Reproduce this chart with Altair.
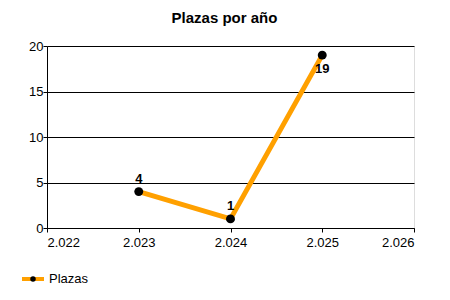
import altair as alt
import pandas as pd

years = [2023, 2024, 2025]
plazas = [4, 1, 19]
label_dy = [-14, -12, 14]
x_ticks = [2022, 2023, 2024, 2025, 2026]
y_ticks = [0, 5, 10, 15, 20]
series_name = "Plazas"
title_text = "Plazas por año"

df = pd.DataFrame({"year": years, "plazas": plazas, "dy": label_dy})

FONT = "Liberation Sans"

x = alt.X("year:Q",
          scale=alt.Scale(domain=[2022, 2026], nice=False, zero=False),
          axis=alt.Axis(values=x_ticks, title=None, grid=False,
                        labelExpr="replace(format(datum.value, ','), ',', '.')",
                        labelFontSize=13, labelColor="black", labelPadding=4,
                        tickColor="black", tickSize=4, domainColor="black",
                        labelFont=FONT))
y = alt.Y("plazas:Q",
          scale=alt.Scale(domain=[0, 20], nice=False),
          axis=alt.Axis(values=y_ticks, title=None, grid=True, gridColor="black",
                        gridOpacity=1, labelFontSize=13, labelColor="black",
                        tickColor="black", tickSize=4, domainColor="black",
                        labelPadding=0, labelFont=FONT))

line = alt.Chart(df).mark_line(color="#FFA000", strokeWidth=5).encode(x=x, y=y)
points = alt.Chart(df).mark_circle(color="black", size=80, opacity=1).encode(x="year:Q", y="plazas:Q")
labels_up = alt.Chart(df).transform_filter("datum.dy < 0").mark_text(
    fontWeight="bold", fontSize=13, font=FONT, color="black", baseline="bottom", dy=-6
).encode(x="year:Q", y="plazas:Q", text="plazas:Q")
labels_down = alt.Chart(df).transform_filter("datum.dy > 0").mark_text(
    fontWeight="bold", fontSize=13, font=FONT, color="black", baseline="top", dy=8
).encode(x="year:Q", y="plazas:Q", text="plazas:Q")

# legend (manual, below the plot)
leg_df = pd.DataFrame({"name": [series_name]})
leg_line = alt.Chart(leg_df).mark_rule(color="#FFA000", strokeWidth=4).encode(
    x=alt.value(-25), x2=alt.value(-3), y=alt.value(233))
leg_pt = alt.Chart(leg_df).mark_circle(color="black", size=30, opacity=1).encode(
    x=alt.value(-14), y=alt.value(233))
leg_txt = alt.Chart(leg_df).mark_text(align="left", baseline="middle", fontSize=13,
                                      font=FONT, color="black").encode(
    x=alt.value(2), y=alt.value(233), text="name:N")

chart = alt.layer(line, points, labels_up, labels_down, leg_line, leg_pt, leg_txt).properties(
    width=367, height=182,
    title=alt.Title(title_text, fontSize=15, fontWeight="bold", font=FONT, color="black",
                    anchor="middle", offset=14, dx=-6),
    autosize=alt.AutoSizeParams(type="none"),
    padding={"left": 47, "top": 46, "right": 36, "bottom": 72},
).configure_view(stroke=None).configure(background="white")

chart.save("out.html", embed_options={"renderer": "svg", "actions": False})
